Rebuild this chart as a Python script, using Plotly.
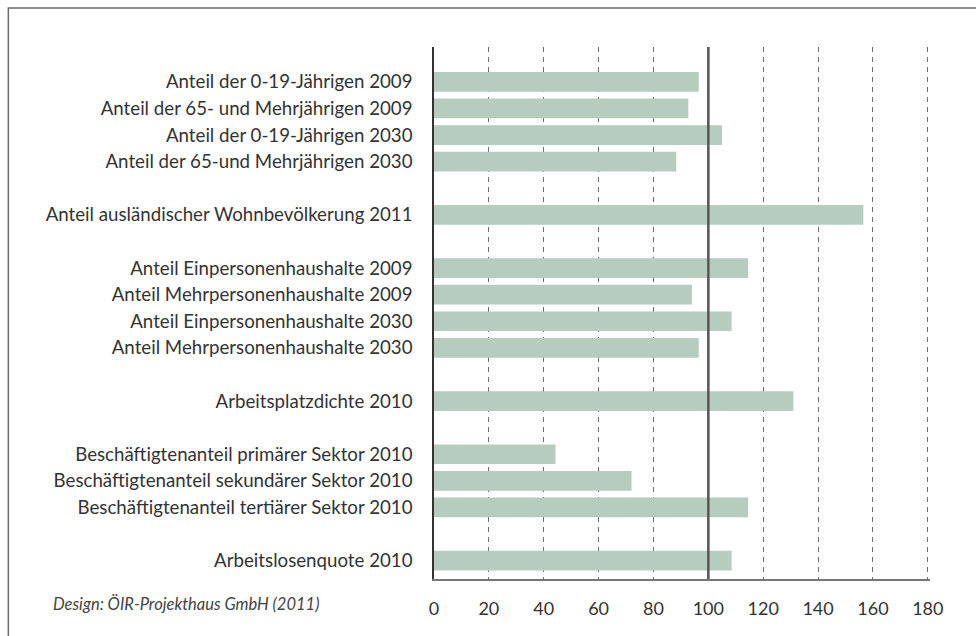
import plotly.graph_objects as go

# ---- data ----
labels = [
    "Anteil der 0-19-Jährigen 2009",
    "Anteil der 65- und Mehrjährigen 2009",
    "Anteil der 0-19-Jährigen 2030",
    "Anteil der 65-und Mehrjährigen 2030",
    "Anteil ausländischer Wohnbevölkerung 2011",
    "Anteil Einpersonenhaushalte 2009",
    "Anteil Mehrpersonenhaushalte 2009",
    "Anteil Einpersonenhaushalte 2030",
    "Anteil Mehrpersonenhaushalte 2030",
    "Arbeitsplatzdichte 2010",
    "Beschäftigtenanteil primärer Sektor 2010",
    "Beschäftigtenanteil sekundärer Sektor 2010",
    "Beschäftigtenanteil tertiärer Sektor 2010",
    "Arbeitslosenquote 2010",
]
values = [96.5, 92.7, 105.0, 88.3, 156.5, 114.5, 94.0, 108.5, 96.5, 131.0, 44.3, 72.0, 114.5, 108.5]
group_sizes = [4, 1, 4, 1, 3, 1]
x_ticks = [0, 20, 40, 60, 80, 100, 120, 140, 160, 180]
reference_value = 100
credit = "Design: ÖIR-Projekthaus GmbH (2011)"

# ---- build categories with blank spacer rows between groups ----
cats, vals = [], []
i = 0
for g, size in enumerate(group_sizes):
    if g > 0:
        cats.append(" " * g)
        vals.append(None)
    for _ in range(size):
        cats.append(labels[i])
        vals.append(values[i])
        i += 1

n = len(cats)

W, H = 976, 636
X_MAX = 180.8
px_per_unit = (927.7 - 433.5) / 180
L, T, B = 433.5, 47, 57
R = W - L - X_MAX * px_per_unit
pw, ph = W - L - R, H - T - B

def px_x(px):
    return (px - L) / pw

def px_y(py):
    return (H - B - py) / ph

FONT = "Lato"
TXT = "#333333"

fig = go.Figure(go.Bar(
    x=vals, y=cats, orientation="h",
    marker=dict(color="#b5ccbf", line=dict(width=0)),
    width=0.74, hoverinfo="x+y",
))

fig.update_layout(
    width=W, height=H,
    margin=dict(l=L, r=R, t=T, b=B, pad=0),
    paper_bgcolor="white", plot_bgcolor="white",
    showlegend=False,
    font=dict(family=FONT, size=18.7, color=TXT),
    xaxis=dict(
        range=[0, X_MAX], tickvals=x_ticks, ticktext=[str(t) for t in x_ticks],
        showgrid=True, gridcolor="#6e6e6e", gridwidth=1.3, griddash="5px,5px",
        showline=True, linecolor="#777777", linewidth=1.5,
        ticks="outside", ticklen=13, tickcolor="rgba(0,0,0,0)",
        tickfont=dict(family=FONT, size=18, color=TXT),
        zeroline=False, fixedrange=True,
    ),
    yaxis=dict(
        type="category", categoryorder="array", categoryarray=cats,
        range=[n - 1 + 0.69, -1.31],
        showgrid=False, showline=True, linecolor="#333333", linewidth=1.5,
        ticks="outside", ticklen=16, tickcolor="rgba(0,0,0,0)",
        tickfont=dict(family=FONT, size=18.7, color=TXT),
        zeroline=False, fixedrange=True,
    ),
)

# solid reference line at 100 (above bars)
fig.add_shape(type="line", xref="x", yref="paper",
              x0=reference_value, x1=reference_value, y0=0, y1=1,
              line=dict(color="#5a5a5a", width=2.6), layer="above")

# outer frame (right and bottom edges run off the picture)
fig.add_shape(type="rect", xref="paper", yref="paper",
              x0=px_x(7.5), x1=px_x(990), y0=px_y(650), y1=px_y(8),
              line=dict(color="#6a6a6a", width=1.5), fillcolor="rgba(0,0,0,0)",
              layer="above")

fig.add_annotation(text="<i>" + credit + "</i>", xref="paper", yref="paper",
                   x=px_x(50), y=px_y(604), xanchor="left", yanchor="middle",
                   showarrow=False, font=dict(family=FONT, size=16.5, color="#444444"))

fig.write_html("out.html", config={"displayModeBar": False},
               post_script="document.body.style.margin='0';document.body.style.overflow='hidden';")
